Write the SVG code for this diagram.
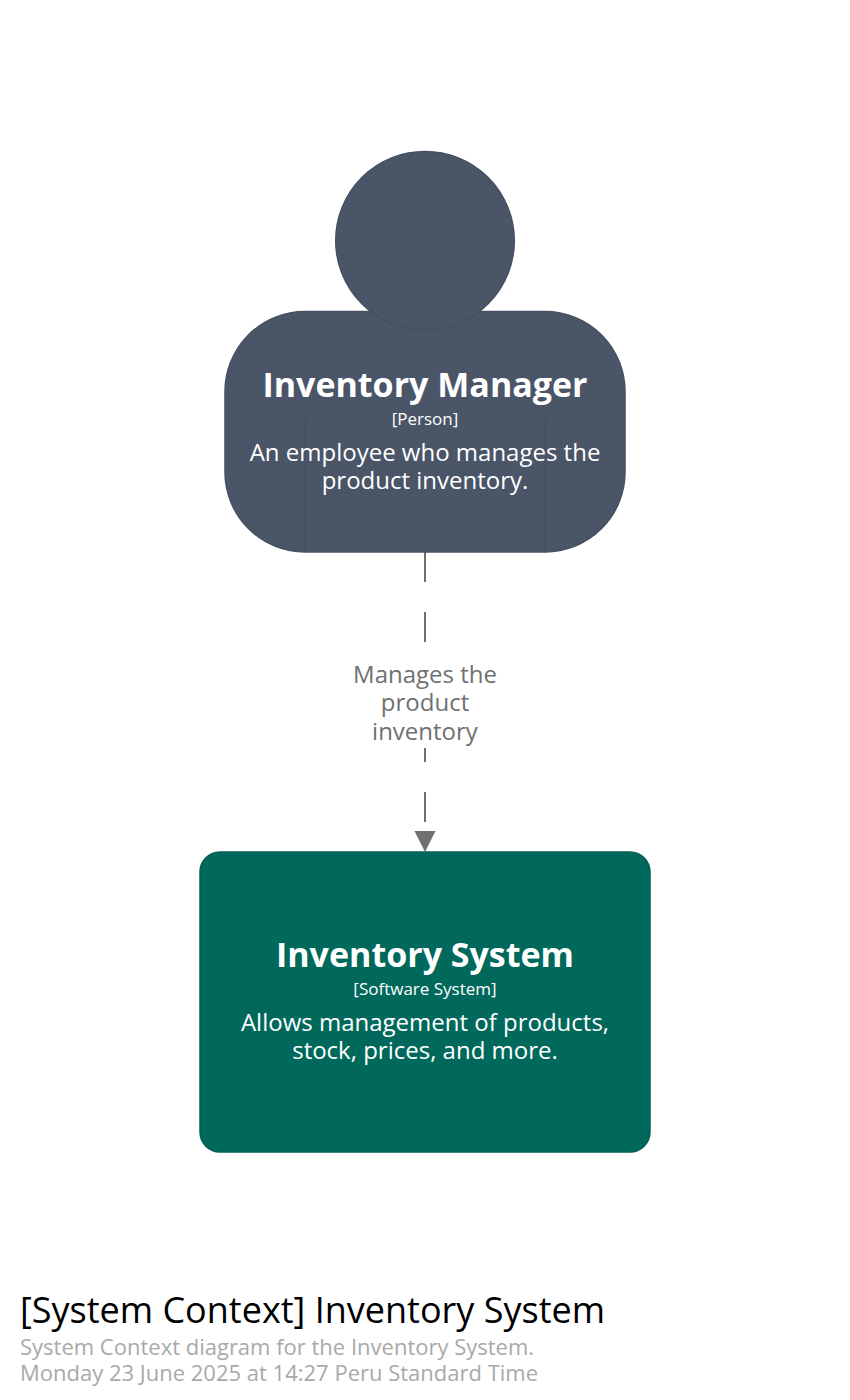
<svg xmlns="http://www.w3.org/2000/svg" width="850" height="1400" viewBox="0 0 850 1400">
<style>
text{font-family:"Open Sans","Noto Sans",sans-serif;text-anchor:middle}
.n{font-size:34px;font-weight:700;fill:#fff}
.t{font-size:17px;fill:#fff}
.d{font-size:24px;fill:#fff}
.l{font-size:24px;fill:#707070}
.p{fill:#4a5568;stroke:#465062;stroke-width:1.5}
.tt{text-anchor:start}
</style>
<defs><marker id="arrow" markerUnits="userSpaceOnUse" markerWidth="22" markerHeight="22" refX="21" refY="11" orient="auto"><path d="M0 0.500L21 11L0 21.500Z" fill="#707070"/></marker></defs>
<rect width="850" height="1400" fill="#fff"/>
<g id="connectors">
<path d="M425 552V852" fill="none" stroke="#707070" stroke-width="2" stroke-dasharray="30 30" marker-end="url(#arrow)"/>
<rect x="342" y="660" width="166" height="88" fill="#fff"/>
<text class="l" x="425" y="683">Manages the</text>
<text class="l" x="425" y="711">product</text>
<text class="l" x="425" y="740">inventory</text>
</g>
<g id="inventory-manager">
<rect class="p" x="225" y="311.500" width="400" height="240.500" rx="80"/>
<circle class="p" cx="425" cy="240.700" r="89.300"/>
<path d="M305 418V552M545 418V552" stroke="#465062" stroke-width="1.500" fill="none"/>
<text class="n" x="425" y="397">Inventory Manager</text>
<text class="t" x="425" y="424.500">[Person]</text>
<text class="d" x="425" y="461">An employee who manages the</text>
<text class="d" x="425" y="489">product inventory.</text>
</g>
<g id="inventory-system">
<rect x="200" y="852" width="450" height="300" rx="20" fill="#01695b" stroke="#016055" stroke-width="1.500"/>
<text class="n" x="425" y="967">Inventory System</text>
<text class="t" x="425" y="994.500">[Software System]</text>
<text class="d" x="425" y="1031">Allows management of products,</text>
<text class="d" x="425" y="1059">stock, prices, and more.</text>
</g>
<g id="title">
<text class="tt" x="20" y="1323" font-size="36" fill="#000">[System Context] Inventory System</text>
<text class="tt" x="20" y="1355" font-size="22" fill="#a9a9a9">System Context diagram for the Inventory System.</text>
<text class="tt" x="20" y="1381" font-size="22" fill="#a9a9a9">Monday 23 June 2025 at 14:27 Peru Standard Time</text>
</g>
</svg>
